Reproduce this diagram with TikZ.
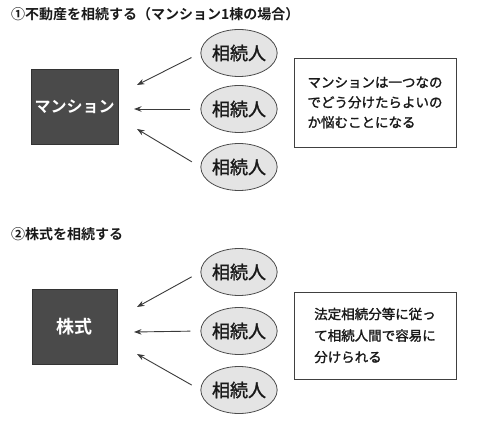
\documentclass[tikz,border=0pt]{standalone}
\usepackage{fontspec}
\setmainfont{Noto Sans CJK JP}[BoldFont={Noto Sans CJK JP Bold}]
\newfontfamily\medfont{Noto Sans CJK JP}[FakeBold=1.6]
\usetikzlibrary{arrows.meta,shapes.geometric}
\definecolor{assetGray}{HTML}{4A4A4A}
\definecolor{heirGray}{HTML}{E4E4E4}
\definecolor{lineGray}{HTML}{3A3A3A}

\begin{document}
\begin{tikzpicture}[
  x=1pt, y=-1pt,
  >={Stealth[length=7.5pt,width=5.5pt]},
  every node/.style={font=\medfont\fontsize{13.5}{20}\selectfont, text=black!90},
  heading/.style={anchor=west, inner sep=0pt, font=\bfseries\fontsize{14}{16}\selectfont},
  assetbox/.style={draw=black!80, fill=assetGray, minimum width=85pt, minimum height=75pt,
    text=white, font=\bfseries\fontsize{16}{18}\selectfont},
  heir/.style={ellipse, draw=black!70, line width=0.8pt, fill=heirGray,
    minimum width=64pt, minimum height=47pt, inner sep=0pt, font=\medfont\fontsize{18}{20}\selectfont},
  notebox/.style={draw=black!75, line width=0.8pt, minimum width=162pt, align=left},
  flow/.style={->, draw=lineGray, line width=0.9pt, shorten <=10pt}
]
  \useasboundingbox (0,0) rectangle (500,430);

  % (1) real estate
  \node[heading] (title1) at (11,14) {①不動産を相続する（マンション1棟の場合）};
  \node[assetbox] (flat) at (74.5,106.5) {マンション};
  \node[heir] (h1) at (239,53) {相続人};
  \node[heir] (h2) at (239,109) {相続人};
  \node[heir] (h3) at (239,167) {相続人};
  \node[notebox, minimum height=89pt] (note1) at (375,102.5)
    {マンションは一つなの\\でどう分けたらよいの\\か悩むことになる};

  \coordinate (a1) at (137,85);
  \coordinate (a2) at (134,109);
  \coordinate (a3) at (137,129);
  \draw[flow] (h1.west) -- (a1);
  \draw[flow] (h2.west) -- (a2);
  \draw[flow] (h3.west) -- (a3);

  % (2) shares
  \node[heading] (title2) at (11,234) {②株式を相続する};
  \node[assetbox, font=\bfseries\fontsize{18}{20}\selectfont] (stock) at (74.5,326.5) {株式};
  \node[heir] (h4) at (239,272) {相続人};
  \node[heir] (h5) at (239,331) {相続人};
  \node[heir] (h6) at (239,390) {相続人};
  \node[notebox, minimum height=87pt, font=\medfont\fontsize{13.5}{21.5}\selectfont] (note2) at (375,335.5)
    {法定相続分等に従っ\\て相続人間で容易に\\分けられる};

  \coordinate (a4) at (137,307);
  \coordinate (a5) at (134,332);
  \coordinate (a6) at (137,354);
  \draw[flow] (h4.west) -- (a4);
  \draw[flow] (h5.west) -- (a5);
  \draw[flow] (h6.west) -- (a6);
\end{tikzpicture}
\end{document}
